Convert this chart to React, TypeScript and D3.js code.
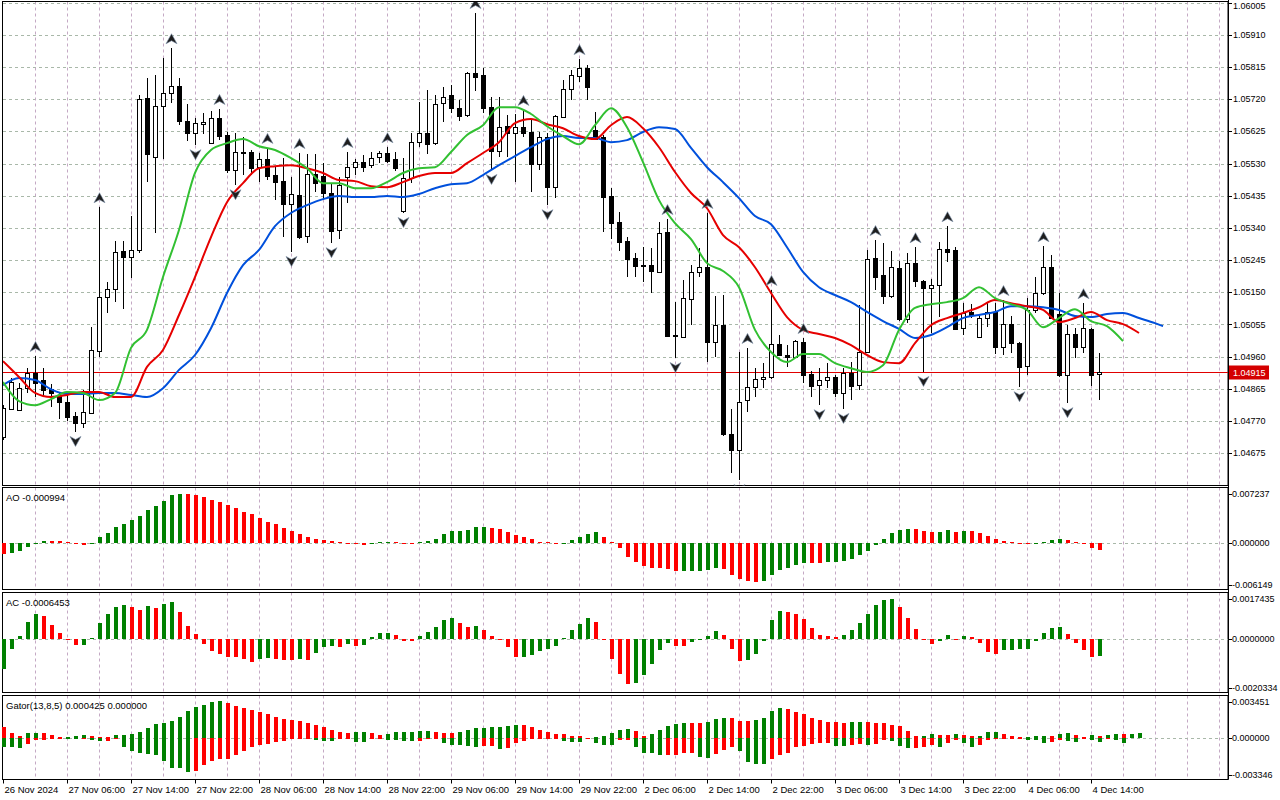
import React from 'react';
import * as d3 from 'd3';

// EURUSD H1 with Alligator, Fractals, AO, AC and Gator (26 Nov 22:00 .. 4 Dec 15:00)
const open = [
  1.04723, 1.04805, 1.04803, 1.04867, 1.04912, 1.04891, 1.04864, 1.04847, 1.04826, 1.04785,
  1.04764, 1.04794, 1.04977, 1.05136, 1.05159, 1.05272, 1.05254, 1.05275, 1.05723, 1.05549,
  1.05699, 1.05738, 1.05758, 1.05655, 1.05620, 1.05646, 1.05590, 1.05664, 1.05614, 1.05511,
  1.05564, 1.05564, 1.05519, 1.05543, 1.05496, 1.05478, 1.05410, 1.05437, 1.05316, 1.05499,
  1.05493, 1.05443, 1.05334, 1.05490, 1.05519, 1.05534, 1.05525, 1.05549, 1.05561, 1.05543,
  1.05390, 1.05487, 1.05593, 1.05620, 1.05590, 1.05708, 1.05732, 1.05693, 1.05673, 1.05797,
  1.05791, 1.05696, 1.05567, 1.05640, 1.05620, 1.05637, 1.05623, 1.05528, 1.05608, 1.05460,
  1.05667, 1.05750, 1.05788, 1.05811, 1.05629, 1.05608, 1.05434, 1.05357, 1.05301, 1.05251,
  1.05230, 1.05230, 1.05210, 1.05328, 1.05024, 1.05018, 1.05130, 1.05210, 1.05224, 1.05003,
  1.05053, 1.04732, 1.04685, 1.04832, 1.04870, 1.04894, 1.04900, 1.04997, 1.04965, 1.04959,
  1.05003, 1.04909, 1.04876, 1.04891, 1.04900, 1.04853, 1.04912, 1.04876, 1.04974, 1.05251,
  1.05201, 1.05139, 1.05221, 1.05071, 1.05236, 1.05183, 1.05162, 1.05171, 1.05277, 1.05275,
  1.05044, 1.05092, 1.05018, 1.05074, 1.05092, 1.04988, 1.05056, 1.05000, 1.04932, 1.05098,
  1.05148, 1.05224, 1.05086, 1.04906, 1.05027, 1.04988, 1.05042, 1.04909,
];
const high = [
  1.04817, 1.04897, 1.04882, 1.04926, 1.04962, 1.04926, 1.04879, 1.04856, 1.04853, 1.04797,
  1.04862, 1.05047, 1.05401, 1.05180, 1.05301, 1.05301, 1.05375, 1.05732, 1.05782, 1.05791,
  1.05841, 1.05870, 1.05782, 1.05705, 1.05664, 1.05679, 1.05685, 1.05691, 1.05623, 1.05620,
  1.05608, 1.05570, 1.05561, 1.05576, 1.05519, 1.05546, 1.05490, 1.05561, 1.05558, 1.05558,
  1.05531, 1.05472, 1.05490, 1.05564, 1.05543, 1.05555, 1.05564, 1.05567, 1.05578, 1.05564,
  1.05546, 1.05620, 1.05711, 1.05747, 1.05732, 1.05755, 1.05761, 1.05717, 1.05800, 1.05974,
  1.05811, 1.05726, 1.05726, 1.05673, 1.05676, 1.05688, 1.05658, 1.05623, 1.05620, 1.05673,
  1.05776, 1.05806, 1.05838, 1.05820, 1.05682, 1.05614, 1.05457, 1.05387, 1.05313, 1.05266,
  1.05283, 1.05280, 1.05357, 1.05366, 1.05121, 1.05186, 1.05230, 1.05280, 1.05384, 1.05139,
  1.05142, 1.04806, 1.04974, 1.04986, 1.04926, 1.04941, 1.05157, 1.05024, 1.04994, 1.05009,
  1.05015, 1.04918, 1.04926, 1.04941, 1.04906, 1.04926, 1.04944, 1.05112, 1.05275, 1.05304,
  1.05295, 1.05272, 1.05242, 1.05266, 1.05283, 1.05186, 1.05189, 1.05298, 1.05345, 1.05283,
  1.05118, 1.05115, 1.05083, 1.05118, 1.05118, 1.05127, 1.05080, 1.05003, 1.05133, 1.05195,
  1.05286, 1.05260, 1.05148, 1.05053, 1.05044, 1.05118, 1.05044, 1.04971,
];
const low = [
  1.04714, 1.04803, 1.04800, 1.04853, 1.04841, 1.04841, 1.04811, 1.04776, 1.04770, 1.04738,
  1.04749, 1.04794, 1.04959, 1.05089, 1.05121, 1.05100, 1.05192, 1.05266, 1.05475, 1.05325,
  1.05543, 1.05708, 1.05643, 1.05596, 1.05584, 1.05617, 1.05587, 1.05599, 1.05502, 1.05466,
  1.05496, 1.05496, 1.05475, 1.05481, 1.05422, 1.05313, 1.05269, 1.05307, 1.05295, 1.05446,
  1.05422, 1.05295, 1.05307, 1.05413, 1.05496, 1.05505, 1.05516, 1.05531, 1.05531, 1.05508,
  1.05384, 1.05472, 1.05578, 1.05558, 1.05584, 1.05652, 1.05679, 1.05655, 1.05667, 1.05744,
  1.05679, 1.05511, 1.05549, 1.05549, 1.05475, 1.05608, 1.05446, 1.05511, 1.05407, 1.05428,
  1.05667, 1.05717, 1.05770, 1.05717, 1.05599, 1.05328, 1.05307, 1.05272, 1.05195, 1.05195,
  1.05180, 1.05148, 1.05207, 1.05018, 1.04956, 1.05018, 1.05053, 1.05195, 1.04944, 1.04959,
  1.04726, 1.04617, 1.04596, 1.04797, 1.04841, 1.04867, 1.04894, 1.04962, 1.04929, 1.04956,
  1.04882, 1.04841, 1.04817, 1.04867, 1.04841, 1.04806, 1.04832, 1.04862, 1.04971, 1.05157,
  1.05115, 1.05133, 1.05065, 1.05059, 1.05166, 1.04915, 1.05030, 1.05077, 1.05239, 1.05039,
  1.05024, 1.05074, 1.05018, 1.05047, 1.04968, 1.04965, 1.04971, 1.04870, 1.04906, 1.05089,
  1.05142, 1.05071, 1.04900, 1.04823, 1.04956, 1.04971, 1.04873, 1.04832,
];
const close = [
  1.04808, 1.04885, 1.04867, 1.04912, 1.04882, 1.04862, 1.04853, 1.04826, 1.04782, 1.04764,
  1.04797, 1.04980, 1.05136, 1.05159, 1.05269, 1.05254, 1.05275, 1.05720, 1.05558, 1.05699,
  1.05738, 1.05758, 1.05655, 1.05620, 1.05649, 1.05652, 1.05664, 1.05611, 1.05511, 1.05564,
  1.05561, 1.05516, 1.05543, 1.05493, 1.05475, 1.05410, 1.05440, 1.05313, 1.05499, 1.05472,
  1.05443, 1.05331, 1.05466, 1.05519, 1.05534, 1.05519, 1.05546, 1.05561, 1.05537, 1.05516,
  1.05487, 1.05593, 1.05620, 1.05587, 1.05705, 1.05726, 1.05693, 1.05670, 1.05797, 1.05785,
  1.05693, 1.05567, 1.05637, 1.05620, 1.05637, 1.05620, 1.05528, 1.05608, 1.05460, 1.05670,
  1.05750, 1.05791, 1.05811, 1.05755, 1.05602, 1.05431, 1.05354, 1.05298, 1.05248, 1.05227,
  1.05227, 1.05213, 1.05325, 1.05021, 1.05021, 1.05133, 1.05210, 1.05224, 1.05003, 1.05053,
  1.04732, 1.04685, 1.04826, 1.04870, 1.04894, 1.04900, 1.04997, 1.04965, 1.04959, 1.05006,
  1.04906, 1.04873, 1.04891, 1.04900, 1.04853, 1.04912, 1.04873, 1.04974, 1.05248, 1.05195,
  1.05139, 1.05224, 1.05071, 1.05236, 1.05183, 1.05162, 1.05171, 1.05277, 1.05269, 1.05042,
  1.05089, 1.05083, 1.05074, 1.05092, 1.04988, 1.05056, 1.05000, 1.04930, 1.05098, 1.05148,
  1.05224, 1.05074, 1.04906, 1.05027, 1.04988, 1.05044, 1.04906, 1.04915,
];

// alligator lines, read every second bar (shifted forward past the last candle)
const jawBars = [...d3.range(0, 145, 2), 145];
const jaw = [
  1.04876, 1.04897, 1.04891, 1.04864, 1.04850, 1.04850, 1.04853, 1.04853, 1.04847, 1.04841,
  1.04867, 1.04921, 1.04965, 1.05044, 1.05148, 1.05230, 1.05275, 1.05345, 1.05384, 1.05407,
  1.05425, 1.05434, 1.05431, 1.05431, 1.05434, 1.05431, 1.05440, 1.05457, 1.05469, 1.05472,
  1.05496, 1.05525, 1.05552, 1.05578, 1.05602, 1.05611, 1.05605, 1.05605, 1.05593, 1.05599,
  1.05623, 1.05637, 1.05632, 1.05576, 1.05519, 1.05475, 1.05428, 1.05375, 1.05351, 1.05283,
  1.05210, 1.05165, 1.05142, 1.05121, 1.05092, 1.05065, 1.05042, 1.05015, 1.05024, 1.05047,
  1.05074, 1.05083, 1.05092, 1.05109, 1.05109, 1.05106, 1.05098, 1.05080, 1.05077, 1.05086,
  1.05089, 1.05074, 1.05059, 1.05050,
];
const teethBars = d3.range(0, 143, 2);
const teeth = [
  1.04947, 1.04900, 1.04853, 1.04841, 1.04847, 1.04856, 1.04856, 1.04841, 1.04841, 1.04930,
  1.04980, 1.05083, 1.05195, 1.05313, 1.05416, 1.05472, 1.05516, 1.05522, 1.05525, 1.05516,
  1.05502, 1.05481, 1.05478, 1.05463, 1.05460, 1.05475, 1.05493, 1.05502, 1.05502, 1.05531,
  1.05561, 1.05593, 1.05649, 1.05661, 1.05646, 1.05634, 1.05611, 1.05602, 1.05643, 1.05667,
  1.05634, 1.05578, 1.05505, 1.05443, 1.05398, 1.05319, 1.05283, 1.05224, 1.05148, 1.05077,
  1.05039, 1.05027, 1.05015, 1.04994, 1.04965, 1.04944, 1.04941, 1.05000, 1.05053, 1.05074,
  1.05089, 1.05106, 1.05127, 1.05118, 1.05109, 1.05098, 1.05062, 1.05074, 1.05092, 1.05068,
  1.05056, 1.05030,
];
const lipsBars = d3.range(0, 141, 2);
const lips = [
  1.04885, 1.04829, 1.04817, 1.04835, 1.04856, 1.04853, 1.04832, 1.04853, 1.04986, 1.05039,
  1.05195, 1.05334, 1.05502, 1.05570, 1.05590, 1.05602, 1.05581, 1.05570, 1.05546, 1.05516,
  1.05472, 1.05472, 1.05457, 1.05457, 1.05475, 1.05502, 1.05516, 1.05519, 1.05564, 1.05614,
  1.05643, 1.05696, 1.05696, 1.05676, 1.05640, 1.05611, 1.05587, 1.05643, 1.05693, 1.05637,
  1.05534, 1.05422, 1.05354, 1.05307, 1.05236, 1.05213, 1.05165, 1.05039, 1.04974, 1.04944,
  1.04968, 1.04968, 1.04941, 1.04926, 1.04915, 1.04935, 1.05039, 1.05104, 1.05115, 1.05121,
  1.05133, 1.05165, 1.05133, 1.05115, 1.05098, 1.05047, 1.05074, 1.05100, 1.05065, 1.05050,
  1.05006,
];

const fractalUp = [4, 12, 21, 27, 33, 37, 43, 48, 59, 65, 72, 83, 88, 93, 96, 100, 109, 114, 118, 125, 130, 135];
const fractalDown = [9, 24, 29, 36, 41, 50, 61, 68, 84, 92, 102, 105, 115, 127, 133];

const ao = [
  -0.00148, -0.00130, -0.00102, -0.00046, -0.00010, 0.00032, 0.00030, 0.00028, 0.00014, -0.00007,
  -0.00023, -0.00009, 0.00079, 0.00130, 0.00209, 0.00255, 0.00315, 0.00357, 0.00440, 0.00496,
  0.00566, 0.00644, 0.00658, 0.00652, 0.00640, 0.00616, 0.00579, 0.00547, 0.00505, 0.00463,
  0.00422, 0.00385, 0.00329, 0.00282, 0.00255, 0.00199, 0.00157, 0.00116, 0.00079, 0.00060,
  0.00046, 0.00032, 0.00009, 0.00002, -0.00003, -0.00023, -0.00010, 0.00018, 0.00020, 0.00015,
  0.00005, 0.00003, 0.00010, 0.00032, 0.00060, 0.00116, 0.00157, 0.00160, 0.00176, 0.00213,
  0.00215, 0.00199, 0.00185, 0.00153, 0.00102, 0.00079, 0.00051, 0.00019, 0.00009, 0.00004,
  0.00006, 0.00046, 0.00083, 0.00125, 0.00144, 0.00083, 0.00014, -0.00070, -0.00185, -0.00255,
  -0.00310, -0.00338, -0.00340, -0.00342, -0.00375, -0.00372, -0.00370, -0.00368, -0.00357, -0.00339,
  -0.00350, -0.00427, -0.00487, -0.00510, -0.00524, -0.00510, -0.00427, -0.00357, -0.00329, -0.00292,
  -0.00264, -0.00266, -0.00268, -0.00258, -0.00255, -0.00245, -0.00218, -0.00162, -0.00107, -0.00023,
  0.00060, 0.00130, 0.00171, 0.00185, 0.00184, 0.00157, 0.00144, 0.00146, 0.00171, 0.00144,
  0.00157, 0.00155, 0.00130, 0.00088, 0.00060, 0.00032, 0.00014, 0.00002, -0.00014, -0.00003,
  0.00018, 0.00046, 0.00060, 0.00046, 0.00018, -0.00009, -0.00062, -0.000994,
];
const ac = [
  -0.00116, -0.00041, 0.00010, 0.00065, 0.00094, 0.00087, 0.00052, 0.00021, -0.00006, -0.00025,
  -0.00024, 0.00001, 0.00059, 0.00094, 0.00122, 0.00129, 0.00122, 0.00110, 0.00125, 0.00118,
  0.00133, 0.00141, 0.00102, 0.00048, 0.00017, -0.00019, -0.00048, -0.00057, -0.00069, -0.00071,
  -0.00079, -0.00090, -0.00079, -0.00075, -0.00079, -0.00080, -0.00083, -0.00079, -0.00080, -0.00056,
  -0.00032, -0.00028, -0.00033, -0.00021, -0.00028, -0.00025, 0.00005, 0.00021, 0.00022, 0.00013,
  -0.00008, -0.00009, 0.00009, 0.00025, 0.00044, 0.00071, 0.00079, 0.00059, 0.00044, 0.00048,
  0.00032, 0.00009, -0.00006, -0.00030, -0.00069, -0.00068, -0.00061, -0.00048, -0.00038, -0.00026,
  0.00001, 0.00032, 0.00056, 0.00079, 0.00065, -0.00003, -0.00076, -0.00135, -0.00173, -0.00169,
  -0.00138, -0.00096, -0.00045, -0.00018, -0.00026, -0.00027, -0.00014, -0.00006, 0.00009, 0.00028,
  0.00013, -0.00041, -0.00084, -0.00083, -0.00057, -0.00010, 0.00071, 0.00106, 0.00102, 0.00094,
  0.00075, 0.00040, 0.00013, 0.00009, 0.00005, 0.00013, 0.00032, 0.00059, 0.00094, 0.00129,
  0.00149, 0.00150, 0.00122, 0.00079, 0.00036, -0.00006, -0.00022, -0.00010, 0.00013, -0.00003,
  0.00009, 0.00005, -0.00018, -0.00049, -0.00057, -0.00045, -0.00044, -0.00041, -0.00038, -0.00010,
  0.00021, 0.00040, 0.00044, 0.00017, -0.00018, -0.00045, -0.00069, -0.0006453,
];
const gatorUp = [
  0.00092, 0.00042, 0.00014, 0.00042, 0.00044, 0.00043, 0.00028, 0.00008, 0.00011, 0.00019,
  0.00022, 0.00019, 0.00011, 0.00009, 0.00022, 0.00023, 0.00030, 0.00050, 0.00083, 0.00116,
  0.00125, 0.00144, 0.00177, 0.00225, 0.00258, 0.00269, 0.00294, 0.00302, 0.00286, 0.00264,
  0.00244, 0.00227, 0.00211, 0.00200, 0.00172, 0.00155, 0.00150, 0.00144, 0.00128, 0.00111,
  0.00092, 0.00069, 0.00053, 0.00044, 0.00053, 0.00054, 0.00042, 0.00028, 0.00033, 0.00050,
  0.00053, 0.00054, 0.00061, 0.00062, 0.00053, 0.00044, 0.00043, 0.00053, 0.00069, 0.00086,
  0.00087, 0.00094, 0.00095, 0.00096, 0.00111, 0.00110, 0.00094, 0.00069, 0.00053, 0.00036,
  0.00035, 0.00019, 0.00018, 0.00004, 0.00006, 0.00014, 0.00044, 0.00069, 0.00078, 0.00061,
  0.00019, 0.00036, 0.00069, 0.00103, 0.00119, 0.00128, 0.00127, 0.00126, 0.00136, 0.00153,
  0.00169, 0.00168, 0.00144, 0.00143, 0.00145, 0.00169, 0.00219, 0.00244, 0.00236, 0.00211,
  0.00194, 0.00169, 0.00152, 0.00136, 0.00135, 0.00128, 0.00129, 0.00136, 0.00135, 0.00128,
  0.00127, 0.00111, 0.00103, 0.00061, 0.00019, 0.00020, 0.00036, 0.00028, 0.00027, 0.00036,
  0.00028, 0.00019, 0.00020, 0.00053, 0.00054, 0.00036, 0.00019, 0.00011, 0.00012, 0.00019,
  0.00020, 0.00019, 0.00036, 0.00044, 0.00028, 0.00011, 0.00028, 0.00019, 0.00025, 0.00036,
  0.00034, 0.00035, 0.000425,
];
const gatorDown = [
  -0.00069, -0.00070, -0.00078, -0.00050, -0.00014, -0.00012, -0.00005, -0.00003, -0.00006, -0.00007,
  -0.00005, -0.00014, -0.00022, -0.00021, -0.00006, -0.00069, -0.00103, -0.00119, -0.00128, -0.00136,
  -0.00186, -0.00244, -0.00245, -0.00277, -0.00269, -0.00216, -0.00186, -0.00169, -0.00167, -0.00139,
  -0.00103, -0.00069, -0.00055, -0.00044, -0.00033, -0.00022, -0.00010, -0.00005, -0.00003, -0.00019,
  -0.00020, -0.00021, -0.00008, -0.00005, -0.00028, -0.00029, -0.00010, -0.00003, -0.00014, -0.00015,
  -0.00022, -0.00023, -0.00020, -0.00005, -0.00003, -0.00036, -0.00055, -0.00056, -0.00064, -0.00072,
  -0.00064, -0.00062, -0.00086, -0.00080, -0.00036, -0.00022, -0.00005, -0.00003, -0.00002, -0.00001,
  -0.00022, -0.00028, -0.00029, -0.00003, -0.00036, -0.00055, -0.00056, -0.00019, -0.00018, -0.00075,
  -0.00119, -0.00120, -0.00136, -0.00135, -0.00134, -0.00119, -0.00118, -0.00153, -0.00161, -0.00128,
  -0.00094, -0.00075, -0.00103, -0.00194, -0.00211, -0.00213, -0.00172, -0.00136, -0.00119, -0.00069,
  -0.00061, -0.00044, -0.00043, -0.00042, -0.00061, -0.00062, -0.00053, -0.00052, -0.00053, -0.00044,
  -0.00019, -0.00020, -0.00061, -0.00078, -0.00077, -0.00069, -0.00053, -0.00069, -0.00036, -0.00019,
  -0.00036, -0.00069, -0.00053, -0.00014, -0.00006, -0.00003, -0.00002, -0.00001, -0.00014, -0.00019,
  -0.00036, -0.00035, -0.00019, -0.00022, -0.00028, -0.00005, -0.00019, -0.00028, -0.00010, -0.00019,
  -0.00042,
];

const timeLabels = [
  '26 Nov 2024', '27 Nov 06:00', '27 Nov 14:00', '27 Nov 22:00', '28 Nov 06:00', '28 Nov 14:00',
  '28 Nov 22:00', '29 Nov 06:00', '29 Nov 14:00', '29 Nov 22:00', '2 Dec 06:00', '2 Dec 14:00',
  '2 Dec 22:00', '3 Dec 06:00', '3 Dec 14:00', '3 Dec 22:00', '4 Dec 06:00', '4 Dec 14:00',
];
const priceTicks = [
  1.06005, 1.0591, 1.05815, 1.0572, 1.05625, 1.0553, 1.05435, 1.0534, 1.05245,
  1.0515, 1.05055, 1.0496, 1.04865, 1.0477, 1.04675,
];
const lastPrice = 1.04915;
const aoScaleRange = [-0.006149, 0.007237];
const acScaleRange = [-0.0020334, 0.0017435];
const gatorScaleRange = [-0.003346, 0.003451];

const FONT = '"Liberation Sans", Arial, sans-serif';
const GREEN = '#008000';
const RED = '#ff0000';
const AXIS_X = 1228;
const H_GRID = '#a9b8a9';
const V_GRID = '#c4a9c4';

const mainP = { top: 1.5, bottom: 485.5 };
const aoP = { top: 487.5, bottom: 589.5 };
const acP = { top: 592.5, bottom: 692.5 };
const gaP = { top: 695.5, bottom: 779.5 };

const x = d3.scaleLinear().domain([0, 137]).range([3, 1099]);
const y = d3.scaleLinear().domain([1.04675, 1.06005]).range([453.3, 2.5]);
const yAo = d3.scaleLinear().domain(aoScaleRange).range([589, 489]);
const yAc = d3.scaleLinear().domain(acScaleRange).range([692, 593]);
const yGa = d3.scaleLinear().domain(gatorScaleRange).range([779, 696]);

const gridX = d3.range(35, AXIS_X, 32);
const px = (i: number) => Math.round(x(i)) + 0.5;

function Frame({ p }: { p: { top: number; bottom: number } }) {
  return (
    <g>
      {gridX.map((gx) => (
        <line key={gx} x1={gx + 0.5} x2={gx + 0.5} y1={p.top} y2={p.bottom}
          stroke={V_GRID} strokeDasharray="3,3" />
      ))}
      <rect x={2.5} y={p.top} width={AXIS_X - 2.5} height={p.bottom - p.top}
        fill="none" stroke="#000" />
    </g>
  );
}

function Histogram({ values, scale, greenWhen, firstGreen }: any) {
  const zero = scale(0);
  return (
    <g shapeRendering="crispEdges">
      {values.map((v: number, i: number) => {
        if (v === 0) return null;
        const green = i === 0 ? firstGreen : greenWhen(v, values[i - 1]);
        const yv = scale(v);
        const top = Math.min(zero, yv);
        const h = Math.max(Math.abs(yv - zero), 1);
        return <rect key={i} x={px(i) - 2} y={top} width={4} height={h} fill={green ? GREEN : RED} />;
      })}
    </g>
  );
}

function SubAxis({ scale, labels, p, name }: any) {
  const ys = [p.top + 6, scale(0), p.bottom - 5];
  return (
    <g fontFamily={FONT}>
      <line x1={3} x2={AXIS_X} y1={Math.round(scale(0)) + 0.5} y2={Math.round(scale(0)) + 0.5}
        stroke={H_GRID} strokeDasharray="3,3" />
      {labels.map((t: string, k: number) => (
        <g key={t}>
          <line x1={AXIS_X} x2={AXIS_X + 4} y1={Math.round(ys[k]) + 0.5} y2={Math.round(ys[k]) + 0.5} stroke="#000" />
          <text x={AXIS_X + 4} y={ys[k]} fontSize={9} dominantBaseline="central">{t}</text>
        </g>
      ))}
      <text x={6} y={p.top + 10} fontSize={9.5} dominantBaseline="central">{name}</text>
    </g>
  );
}

const up = (v: number, prev: number) => v > prev;
const deeper = (v: number, prev: number) => Math.abs(v) > Math.abs(prev);

export default function App() {
  const lineGen = (bars: number[]) =>
    d3.line<number>().x((_, k) => x(bars[k])).y((d) => y(d)).curve(d3.curveMonotoneX);
  const yLast = Math.round(y(lastPrice)) + 0.5;

  return (
    <svg width={1280} height={800} style={{ position: 'absolute', left: 0, top: 0, background: '#fff' }}>
      <defs>
        <clipPath id="mainClip">
          <rect x={3} y={2} width={AXIS_X - 3} height={mainP.bottom - 2} />
        </clipPath>
      </defs>
      <rect width={1280} height={800} fill="#fff" />

      {/* main panel */}
      <g>
        {priceTicks.map((p) => (
          <line key={p} x1={3} x2={AXIS_X} y1={Math.round(y(p)) + 0.5} y2={Math.round(y(p)) + 0.5}
            stroke={H_GRID} strokeDasharray="3,3" />
        ))}
        <Frame p={mainP} />
        <g clipPath="url(#mainClip)">
          <line x1={3} x2={AXIS_X} y1={yLast} y2={yLast} stroke="#e00000" />
          <g shapeRendering="crispEdges">
            {open.map((o, i) => {
              const c = close[i];
              const cx = px(i);
              const top = Math.round(y(Math.max(o, c))) + 0.5;
              const bot = Math.round(y(Math.min(o, c))) + 0.5;
              return (
                <g key={i}>
                  <line x1={cx} x2={cx} y1={y(high[i])} y2={y(low[i])} stroke="#000" />
                  <rect x={cx - 2} y={top} width={4} height={Math.max(bot - top, 1)}
                    fill={c >= o ? '#fff' : '#000'} stroke="#000" />
                </g>
              );
            })}
          </g>
          <path d={lineGen(jawBars)(jaw) || ''} fill="none" stroke="#0050dc" strokeWidth={2} />
          <path d={lineGen(teethBars)(teeth) || ''} fill="none" stroke="#e60000" strokeWidth={2} />
          <path d={lineGen(lipsBars)(lips) || ''} fill="none" stroke="#32c032" strokeWidth={2} />
          {fractalUp.map((i) => (
            <path key={'u' + i} transform={`translate(${px(i)},${y(high[i]) - 9.5})`}
              d="M0,-5L5.5,5L0,2L-5.5,5Z" fill="#1e1e1e" stroke="#7a8fa8" strokeWidth={0.6} />
          ))}
          {fractalDown.map((i) => (
            <path key={'d' + i} transform={`translate(${px(i)},${y(low[i]) + 9.5})`}
              d="M0,5L5.5,-5L0,-2L-5.5,-5Z" fill="#1e1e1e" stroke="#7a8fa8" strokeWidth={0.6} />
          ))}
        </g>
        <g fontFamily={FONT} fontSize={9}>
          {priceTicks.map((p) => (
            <g key={p}>
              <line x1={AXIS_X} x2={AXIS_X + 4} y1={Math.round(y(p)) + 0.5} y2={Math.round(y(p)) + 0.5} stroke="#000" />
              <text x={AXIS_X + 5} y={Math.max(y(p), 6)} dominantBaseline="central">{p.toFixed(5)}</text>
            </g>
          ))}
          <rect x={1229} y={yLast - 7} width={40} height={14} fill="#d40000" />
          <text x={AXIS_X + 5} y={yLast} dominantBaseline="central" fill="#fff">{lastPrice.toFixed(5)}</text>
        </g>
      </g>

      {/* AO */}
      <Frame p={aoP} />
      <SubAxis scale={yAo} p={aoP} name={`AO ${ao[ao.length - 1].toFixed(6)}`}
        labels={[aoScaleRange[1].toFixed(6), '0.000000', aoScaleRange[0].toFixed(6)]} />
      <Histogram values={ao} scale={yAo} greenWhen={up} firstGreen={false} />

      {/* AC */}
      <Frame p={acP} />
      <SubAxis scale={yAc} p={acP} name={`AC ${ac[ac.length - 1].toFixed(7)}`}
        labels={[acScaleRange[1].toFixed(7), '0.0000000', acScaleRange[0].toFixed(7)]} />
      <Histogram values={ac} scale={yAc} greenWhen={up} firstGreen={true} />

      {/* Gator */}
      <Frame p={gaP} />
      <SubAxis scale={yGa} p={gaP}
        name={`Gator(13,8,5) ${gatorUp[gatorUp.length - 1].toFixed(6)} 0.000000`}
        labels={[gatorScaleRange[1].toFixed(6), '0.000000', gatorScaleRange[0].toFixed(6)]} />
      <Histogram values={gatorUp} scale={yGa} greenWhen={up} firstGreen={false} />
      <Histogram values={gatorDown} scale={yGa} greenWhen={deeper} firstGreen={true} />

      {/* time axis */}
      <line x1={AXIS_X + 0.5} x2={AXIS_X + 0.5} y1={0} y2={gaP.bottom} stroke="#000" />
      <g fontFamily={FONT} fontSize={9.5}>
        {timeLabels.map((t, k) => (
          <g key={t}>
            <line x1={px(k * 8)} x2={px(k * 8)} y1={gaP.bottom} y2={gaP.bottom + 4} stroke="#000" />
            <text x={px(k * 8) + 1} y={793}>{t}</text>
          </g>
        ))}
      </g>
    </svg>
  );
}
